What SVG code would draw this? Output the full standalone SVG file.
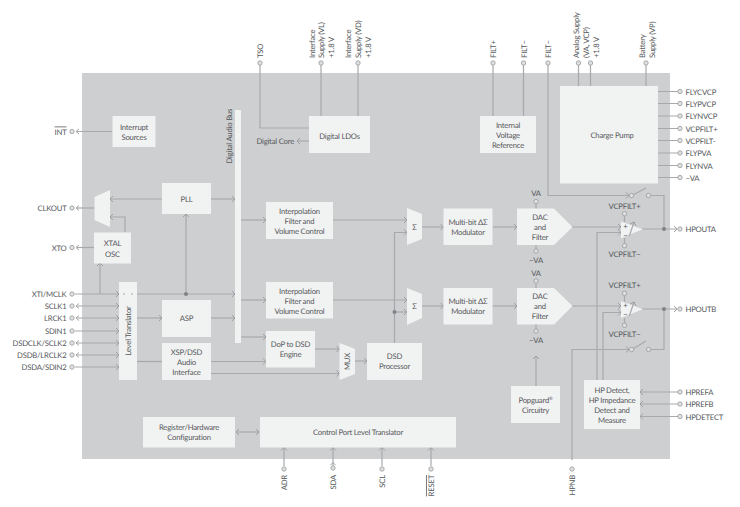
<svg xmlns="http://www.w3.org/2000/svg" width="740" height="507" viewBox="0 0 740 507">
<style>
text{font-family:Lato,"Open Sans","Liberation Sans",sans-serif;font-size:7.700px;letter-spacing:-.2px;fill:#55575a;text-rendering:geometricPrecision}
.m{text-anchor:middle}.e{text-anchor:end}
.b{fill:#f1f2f2;stroke:none}
.c{fill:none;stroke:#a7a9ab;stroke-width:1.2}
.a{marker-end:url(#h)}.s{marker-start:url(#t)}
.p{fill:#dfe0e1;stroke:#989a9c;stroke-width:.8}
.d{fill:#808285;stroke:none}
.o{text-decoration:overline}
</style>
<defs>
<marker id="h" markerUnits="userSpaceOnUse" markerWidth="6" markerHeight="8" refX="4" refY="4" orient="auto"><path d="M1,1 L4,4 L1,7" fill="none" stroke="#989a9c" stroke-width=".9"/></marker>
<marker id="t" markerUnits="userSpaceOnUse" markerWidth="6" markerHeight="8" refX="1" refY="4" orient="auto"><path d="M4,1 L1,4 L4,7" fill="none" stroke="#989a9c" stroke-width=".9"/></marker>
</defs>
<rect x="82" y="73" width="588" height="386" fill="#cdcfd1"/>
<g id="connectors">
<path class="c" d="M112.500 131.500H77"/>
<path class="c" d="M94.500 208H77"/>
<path class="c" d="M94 247.500H77"/>
<path class="c" d="M260 65V128H309M321 65V116M358 65V116M493 65V116M523.500 65V116M578.500 65V86M590.500 65V86M646 65V86"/>
<path class="c a" d="M309 141H297"/>
<path class="c" d="M658 91.500H678M658 103.500H678M658 116H678M658 128.500H678M658 140.500H678M658 153H678M658 165.500H678M658 177.500H678"/>
<path class="c a" d="M548 65V195.500H629"/>
<path class="c" d="M632 195.500L646 188M650.500 195.500H664V229"/>
<path class="c a" d="M642 229H677"/>
<path class="c a" d="M572 227H621"/>
<path class="c a" d="M597 380V232.500H621"/>
<path class="c a" d="M603 380V312.500H621"/>
<path class="c a" d="M572 306H621"/>
<path class="c a" d="M642 309H677"/>
<path class="c a" d="M572 460V349.500H629"/>
<path class="c" d="M632 349.500L646 341M650.500 349.500H664V309"/>
<path class="c" d="M624.500 216V222M624.500 238V243M624.500 296V302M624.500 318V323"/>
<path class="c" d="M536 204V209M536 245V249M536 284V289M536 324V329"/>
<path class="c a" d="M536 386V356"/>
<path class="c a" d="M162 199H110"/>
<path class="c a" d="M125 232V217H110"/>
<path class="c a" d="M211 199H235"/>
<path class="c a" d="M241 220H266"/>
<path class="c a" d="M333 220H407"/>
<path class="c a" d="M422 227H443.500"/>
<path class="c a" d="M492.500 227H517"/>
<path class="c a" d="M241 300H266"/>
<path class="c a" d="M333 300H407"/>
<path class="c a" d="M422 306H443.500"/>
<path class="c a" d="M492.500 306H517"/>
<path class="c a" d="M394.500 343V232.500H407"/>
<path class="c a" d="M394.500 312H407"/>
<path class="c a" d="M75 294H119"/>
<path class="c a" d="M137 294H235"/>
<path class="c a" d="M186 294V214"/>
<path class="c a" d="M100 294V263"/>
<path class="c a" d="M77 306H119"/>
<path class="c a" d="M77 318H119"/>
<path class="c a" d="M75 331H119"/>
<path class="c a" d="M77 343H119"/>
<path class="c a" d="M77 355H119"/>
<path class="c a" d="M75 367H119"/>
<path class="c a" d="M137 318H162"/>
<path class="c a" d="M211 318H235"/>
<path class="c" d="M137 361.500H162"/>
<path class="c a" d="M211 361.500H266"/>
<path class="c a" d="M211 373.500H339.500"/>
<path class="c a" d="M241 337H266"/>
<path class="c a" d="M315 349H339.500"/>
<path class="c a" d="M355 361H367"/>
<path class="c a s" d="M236 432H259"/>
<path class="c a" d="M284 466V447.500"/>
<path class="c a" d="M333 466V447.500"/>
<path class="c a" d="M382 466V447.500"/>
<path class="c a" d="M431 466V447.500"/>
<path class="c a" d="M678 392H640"/>
<path class="c a" d="M678 404H640"/>
<path class="c a" d="M678 416.500H640"/>
<circle class="d" cx="186" cy="294" r="2"/>
<circle class="d" cx="394.500" cy="312" r="2"/>
<circle class="d" cx="664" cy="229" r="2"/>
<circle class="d" cx="664" cy="309" r="2"/>
<path fill="none" stroke="#989a9c" stroke-width=".9" d="M79 129L76 131.500L79 134M79 205.500L76 208L79 210.500M79 245L76 247.500L79 250M79 303.500L76 306L79 308.500M79 315.500L76 318L79 320.500M79 340.500L76 343L79 345.500M79 352.500L76 355L79 357.500M330.500 465L333 462.500L335.500 465"/>
</g>
<g id="pins">
<circle class="p" cx="72" cy="131.500" r="2.200"/><circle class="p" cx="72" cy="208" r="2.200"/><circle class="p" cx="72" cy="247.500" r="2.200"/>
<circle class="p" cx="72" cy="294" r="2.200"/><circle class="p" cx="72" cy="306" r="2.200"/><circle class="p" cx="72" cy="318" r="2.200"/><circle class="p" cx="72" cy="331" r="2.200"/><circle class="p" cx="72" cy="343" r="2.200"/><circle class="p" cx="72" cy="355" r="2.200"/><circle class="p" cx="72" cy="367" r="2.200"/>
<circle class="p" cx="260" cy="63" r="2.200"/><circle class="p" cx="321" cy="63" r="2.200"/><circle class="p" cx="358" cy="63" r="2.200"/><circle class="p" cx="493" cy="63" r="2.200"/><circle class="p" cx="523.500" cy="63" r="2.200"/><circle class="p" cx="548" cy="63" r="2.200"/><circle class="p" cx="578.500" cy="63" r="2.200"/><circle class="p" cx="590.500" cy="63" r="2.200"/><circle class="p" cx="646" cy="63" r="2.200"/>
<circle class="p" cx="680" cy="91.500" r="2.200"/><circle class="p" cx="680" cy="103.500" r="2.200"/><circle class="p" cx="680" cy="116" r="2.200"/><circle class="p" cx="680" cy="128.500" r="2.200"/><circle class="p" cx="680" cy="140.500" r="2.200"/><circle class="p" cx="680" cy="153" r="2.200"/><circle class="p" cx="680" cy="165.500" r="2.200"/><circle class="p" cx="680" cy="177.500" r="2.200"/>
<circle class="p" cx="680" cy="229" r="2.200"/><circle class="p" cx="680" cy="309" r="2.200"/><circle class="p" cx="680" cy="392" r="2.200"/><circle class="p" cx="680" cy="404" r="2.200"/><circle class="p" cx="680" cy="416.500" r="2.200"/>
<circle class="p" cx="284" cy="469" r="2.200"/><circle class="p" cx="333" cy="468" r="2.200"/><circle class="p" cx="382" cy="469" r="2.200"/><circle class="p" cx="431" cy="469" r="2.200"/><circle class="p" cx="572" cy="469" r="2.200"/>
<circle class="p" cx="536" cy="201.500" r="2.200"/><circle class="p" cx="536" cy="251" r="2.200"/><circle class="p" cx="536" cy="281" r="2.200"/><circle class="p" cx="536" cy="331" r="2.200"/>
<circle class="p" cx="624.500" cy="213.700" r="2.200"/><circle class="p" cx="624.500" cy="245.700" r="2.200"/><circle class="p" cx="624.500" cy="293.300" r="2.200"/><circle class="p" cx="624.500" cy="325.300" r="2.200"/>
<circle class="p" cx="631.500" cy="195.500" r="2.200"/><circle class="p" cx="648.500" cy="195.500" r="2.200"/><circle class="p" cx="631.500" cy="349.500" r="2.200"/><circle class="p" cx="648.500" cy="349.500" r="2.200"/>
</g>
<g id="pin-labels">
<text class="e o" x="66.500" y="134.500">INT</text><text class="e" x="66.500" y="211">CLKOUT</text><text class="e" x="66.500" y="250.500">XTO</text><text class="e" x="66.500" y="296.500">XTI/MCLK</text><text class="e" x="66.500" y="309">SCLK1</text><text class="e" x="66.500" y="321">LRCK1</text><text class="e" x="66.500" y="334">SDIN1</text><text class="e" x="66.500" y="346">DSDCLK/SCLK2</text><text class="e" x="66.500" y="358">DSDB/LRCLK2</text><text class="e" x="66.500" y="370">DSDA/SDIN2</text>
<text x="685.500" y="94.500">FLYCVCP</text><text x="685.500" y="106.500">FLYPVCP</text><text x="685.500" y="119">FLYNVCP</text><text x="685.500" y="131.500">VCPFILT+</text><text x="685.500" y="143.500">VCPFILT-</text><text x="685.500" y="156">FLYPVA</text><text x="685.500" y="168.500">FLYNVA</text><text x="685.500" y="180.500">−VA</text>
<text x="685.500" y="232">HPOUTA</text><text x="685.500" y="312">HPOUTB</text><text x="685.500" y="395">HPREFA</text><text x="685.500" y="407">HPREFB</text><text x="685.500" y="419.500">HPDETECT</text>
<text class="e" x="294" y="144">Digital Core</text>
<text class="m" x="536" y="196">VA</text><text class="m" x="536" y="263">−VA</text><text class="m" x="536" y="275.500">VA</text><text class="m" x="536" y="343">−VA</text>
<text class="m" x="624.500" y="208.500">VCPFILT+</text><text class="m" x="624.500" y="257">VCPFILT−</text><text class="m" x="624.500" y="288">VCPFILT+</text><text class="m" x="624.500" y="337">VCPFILT−</text>
<text transform="translate(263 58) rotate(-90)">TSO</text>
<text transform="translate(314.500 58) rotate(-90)">Interface</text><text transform="translate(324 58) rotate(-90)">Supply (VL)</text><text transform="translate(334 58) rotate(-90)">+1.8 V</text>
<text transform="translate(351 58) rotate(-90)">Interface</text><text transform="translate(361 58) rotate(-90)">Supply (VD)</text><text transform="translate(371 58) rotate(-90)">+1.8 V</text>
<text transform="translate(496 58) rotate(-90)">FILT+</text><text transform="translate(526.500 58) rotate(-90)">FILT−</text><text transform="translate(551 58) rotate(-90)">FILT−</text>
<text transform="translate(578.500 58) rotate(-90)">Analog Supply</text><text transform="translate(589 58) rotate(-90)">(VA, VCP)</text><text transform="translate(599 58) rotate(-90)">+1.8 V</text>
<text transform="translate(644.500 58) rotate(-90)">Battery</text><text transform="translate(654.500 58) rotate(-90)">Supply (VP)</text>
<text class="e" transform="translate(287 475) rotate(-90)">ADR</text><text class="e" transform="translate(336 475) rotate(-90)">SDA</text><text class="e" transform="translate(385 475) rotate(-90)">SCL</text><text class="e o" transform="translate(434 475) rotate(-90)">RESET</text><text class="e" transform="translate(575 475) rotate(-90)">HPNB</text>
</g>
<g id="interrupt-sources"><rect class="b" x="112.500" y="116" width="43" height="31"/><text class="m" x="134" y="130">Interrupt</text><text class="m" x="134" y="140">Sources</text></g>
<g id="clock-mux"><path class="b" d="M94.500 197L110 190V227L94.500 220Z"/></g>
<g id="pll"><rect class="b" x="162" y="183" width="49" height="31"/><text class="m" x="186.500" y="202">PLL</text></g>
<g id="xtal-osc"><rect class="b" x="94" y="232.500" width="37" height="31"/><text class="m" x="112.500" y="246">XTAL</text><text class="m" x="112.500" y="256.500">OSC</text></g>
<g id="digital-audio-bus"><rect class="b" x="235" y="110" width="6" height="233"/><text transform="translate(232 163.500) rotate(-90)">Digital Audio Bus</text></g>
<g id="digital-ldos"><rect class="b" x="309" y="116" width="61" height="37"/><text class="m" x="339.500" y="138.500">Digital LDOs</text></g>
<g id="voltage-reference"><rect class="b" x="480" y="116" width="56" height="37"/><text class="m" x="508" y="127.500">Internal</text><text class="m" x="508" y="137.500">Voltage</text><text class="m" x="508" y="147.500">Reference</text></g>
<g id="charge-pump"><rect class="b" x="560" y="86" width="98" height="97.500"/><text class="m" x="612" y="137.500">Charge Pump</text></g>
<g id="interpolation-a"><rect class="b" x="266" y="202" width="67" height="37"/><text class="m" x="299.500" y="213.500">Interpolation</text><text class="m" x="299.500" y="223.500">Filter and</text><text class="m" x="299.500" y="233.500">Volume Control</text></g>
<g id="interpolation-b"><rect class="b" x="266" y="282" width="67" height="36.500"/><text class="m" x="299.500" y="293.500">Interpolation</text><text class="m" x="299.500" y="303.500">Filter and</text><text class="m" x="299.500" y="313.500">Volume Control</text></g>
<g id="sum-a"><path class="b" d="M407 208L422 214V239L407 245Z"/><text class="m" x="414.500" y="229.500">Σ</text></g>
<g id="sum-b"><path class="b" d="M407 288L422 294V318L407 325Z"/><text class="m" x="414.500" y="309">Σ</text></g>
<g id="modulator-a"><rect class="b" x="443.500" y="208.500" width="49" height="36.500"/><text class="m" x="468" y="224.500">Multi-bit ΔΣ</text><text class="m" x="468" y="234.500">Modulator</text></g>
<g id="modulator-b"><rect class="b" x="443.500" y="288" width="49" height="36.500"/><text class="m" x="468" y="304">Multi-bit ΔΣ</text><text class="m" x="468" y="314">Modulator</text></g>
<g id="dac-a"><path class="b" d="M517 208.500H554L572.500 227L554 245H517Z"/><text class="m" x="540" y="219.500">DAC</text><text class="m" x="540" y="229.500">and</text><text class="m" x="540" y="239.500">Filter</text></g>
<g id="dac-b"><path class="b" d="M517 288H554L572.500 306L554 324.500H517Z"/><text class="m" x="540" y="299">DAC</text><text class="m" x="540" y="309">and</text><text class="m" x="540" y="319">Filter</text></g>
<g id="amp-a"><path class="b" d="M621 221.500L642.700 229.300L621 238.300Z"/><text class="m" x="625.500" y="228.500">+</text><text class="m" x="625.500" y="237.500">−</text><path class="c a" d="M629.300 236L634 222"/></g>
<g id="amp-b"><path class="b" d="M621 301L642.700 309.300L621 318Z"/><text class="m" x="625.500" y="308">+</text><text class="m" x="625.500" y="317">−</text><path class="c a" d="M629.300 316L634 302"/></g>
<g id="level-translator"><rect class="b" x="119" y="282" width="18" height="98"/><text class="m" transform="translate(131 331) rotate(-90)">Level Translator</text><path class="c" d="M123 294H125M131 294H133"/></g>
<g id="asp"><rect class="b" x="162" y="300" width="49" height="37"/><text class="m" x="186.500" y="321">ASP</text></g>
<g id="xsp-dsd"><rect class="b" x="162" y="343" width="49" height="37"/><text class="m" x="186.500" y="354.500">XSP/DSD</text><text class="m" x="186.500" y="364.500">Audio</text><text class="m" x="186.500" y="374.500">Interface</text></g>
<g id="dop-engine"><rect class="b" x="266" y="331" width="49" height="36.500"/><text class="m" x="290.500" y="347">DoP to DSD</text><text class="m" x="290.500" y="357">Engine</text></g>
<g id="mux"><path class="b" d="M339.500 343L355 349V374L339.500 380Z"/><text class="m" transform="translate(350 361.500) rotate(-90)">MUX</text></g>
<g id="dsd-processor"><rect class="b" x="367" y="343" width="55" height="37"/><text class="m" x="394.500" y="359">DSD</text><text class="m" x="394.500" y="369">Processor</text></g>
<g id="popguard"><rect class="b" x="511" y="386" width="49" height="37"/><text class="m" x="535.500" y="403">Popguard<tspan font-size="4.500" dy="-3">®</tspan></text><text class="m" x="535.500" y="413">Circuitry</text></g>
<g id="hp-detect"><rect class="b" x="584" y="380" width="56" height="49"/><text class="m" x="612" y="392.500">HP Detect,</text><text class="m" x="612" y="402.500">HP Impedance</text><text class="m" x="612" y="412.500">Detect and</text><text class="m" x="612" y="422.500">Measure</text></g>
<g id="register-config"><rect class="b" x="143" y="417" width="92" height="30.500"/><text class="m" x="189" y="429.500">Register/Hardware</text><text class="m" x="189" y="439.500">Configuration</text></g>
<g id="control-port"><rect class="b" x="260" y="417" width="196" height="30.500"/><text class="m" x="358" y="435">Control Port Level Translator</text></g>
</svg>
